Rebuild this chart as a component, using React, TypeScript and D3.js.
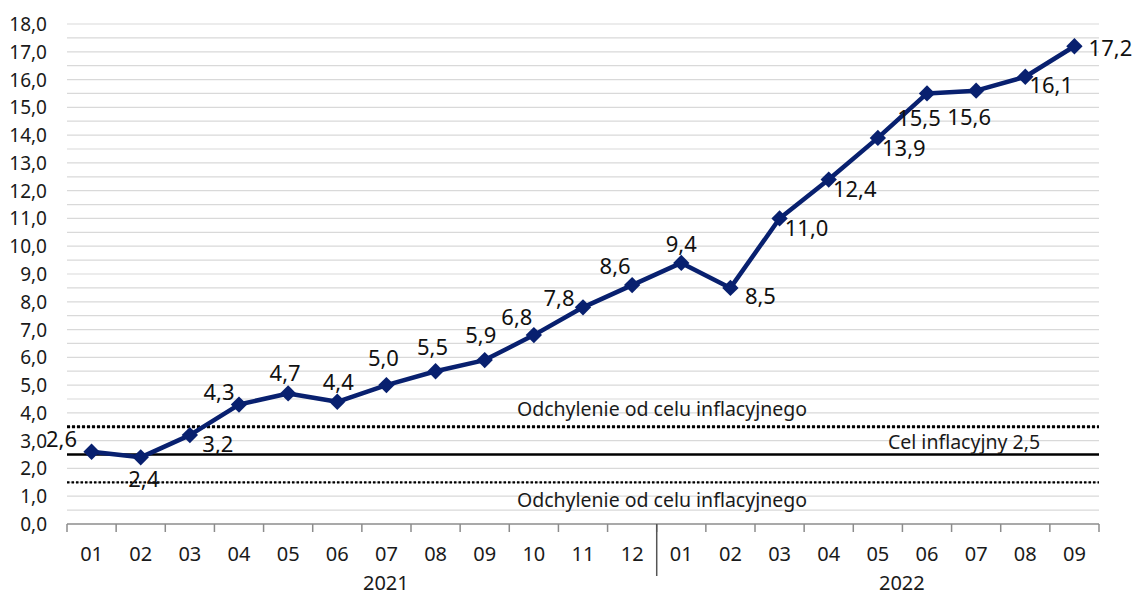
import { useEffect, useRef } from 'react'
import * as d3 from 'd3'

const months = ['01', '02', '03', '04', '05', '06', '07', '08', '09', '10', '11', '12',
  '01', '02', '03', '04', '05', '06', '07', '08', '09']
const years = ['2021', '2022']
const yearMonthCounts = [12, 9]
const inflation = [2.6, 2.4, 3.2, 4.3, 4.7, 4.4, 5.0, 5.5, 5.9, 6.8, 7.8, 8.6,
  9.4, 8.5, 11.0, 12.4, 13.9, 15.5, 15.6, 16.1, 17.2]
const target = 2.5
const bandUpper = 3.5
const bandLower = 1.5
const targetLabel = 'Cel inflacyjny 2,5'
const bandLabel = 'Odchylenie od celu inflacyjnego'

// label offsets relative to the marker (dx, dy)
const labelOffsets = [
  [-30, -14], [3, 21], [28, 8], [-20, -14], [-3, -21], [1, -21], [-3, -28],
  [-3, -25], [-4, -26], [-17, -19], [-24, -10], [-17, -20], [0, -20], [30, 7],
  [27, 9], [26, 8], [26, 9], [-8, 24], [-7, 25], [26, 7], [36, 1],
]

const W = 1136
const H = 595
const FONT = '"Noto Sans", sans-serif'
const NAVY = '#08206f'

const fmt = (v: number) => v.toFixed(1).replace('.', ',')

const App = () => {
  const ref = useRef<SVGSVGElement>(null)

  useEffect(() => {
    document.body.style.margin = '0'
    const svg = d3.select(ref.current)
    svg.selectAll('*').remove()

    const left = 67
    const right = 1099
    const top = 24
    const bottom = 524

    const x = d3.scaleBand<number>()
      .domain(d3.range(months.length))
      .range([left, right])
    const y = d3.scaleLinear().domain([0, 18]).range([bottom, top])

    // gridlines every 0.5
    svg.append('g')
      .selectAll('line')
      .data(d3.range(0.5, 18.01, 0.5))
      .join('line')
      .attr('x1', left).attr('x2', right)
      .attr('y1', d => y(d)).attr('y2', d => y(d))
      .attr('stroke', '#d9d9d9')
      .attr('stroke-width', 1.2)

    // y labels
    svg.append('g')
      .selectAll('text')
      .data(d3.range(0, 19, 1))
      .join('text')
      .attr('x', 47)
      .attr('y', d => y(d))
      .attr('text-anchor', 'end')
      .attr('dominant-baseline', 'central')
      .attr('font-family', FONT)
      .attr('font-size', 19)
      .attr('fill', '#1a1a1a')
      .text(d => fmt(d))

    // x axis
    svg.append('line')
      .attr('x1', left).attr('x2', right)
      .attr('y1', bottom).attr('y2', bottom)
      .attr('stroke', '#8c8c8c').attr('stroke-width', 1.5)

    const boundaries = d3.range(months.length + 1).map(i => left + i * x.step())
    svg.append('g')
      .selectAll('line')
      .data(boundaries)
      .join('line')
      .attr('x1', d => d).attr('x2', d => d)
      .attr('y1', bottom).attr('y2', bottom + 8)
      .attr('stroke', '#8c8c8c').attr('stroke-width', 1.5)

    svg.append('g')
      .selectAll('text')
      .data(months)
      .join('text')
      .attr('x', (_, i) => (x(i) as number) + x.bandwidth() / 2)
      .attr('y', 553)
      .attr('text-anchor', 'middle')
      .attr('dominant-baseline', 'central')
      .attr('font-family', FONT)
      .attr('font-size', 20)
      .attr('fill', '#1a1a1a')
      .text(d => d)

    // year groups
    let start = 0
    years.forEach((yr, k) => {
      const n = yearMonthCounts[k]
      const x0 = left + start * x.step()
      const x1 = left + (start + n) * x.step()
      svg.append('text')
        .attr('x', (x0 + x1) / 2 + 24)
        .attr('y', 582)
        .attr('text-anchor', 'middle')
        .attr('dominant-baseline', 'central')
        .attr('font-family', FONT)
        .attr('font-size', 20)
        .attr('fill', '#1a1a1a')
        .text(yr)
      if (k > 0) {
        svg.append('line')
          .attr('x1', x0).attr('x2', x0)
          .attr('y1', bottom).attr('y2', 576)
          .attr('stroke', '#555').attr('stroke-width', 1.5)
      }
      start += n
    })

    // band and target lines
    svg.append('line')
      .attr('x1', left).attr('x2', right)
      .attr('y1', y(bandUpper)).attr('y2', y(bandUpper))
      .attr('stroke', '#000').attr('stroke-width', 3)
      .attr('stroke-dasharray', '3 2')
    svg.append('line')
      .attr('x1', left).attr('x2', right)
      .attr('y1', y(bandLower)).attr('y2', y(bandLower))
      .attr('stroke', '#000').attr('stroke-width', 2.2)
      .attr('stroke-dasharray', '2.5 2')
    svg.append('line')
      .attr('x1', left).attr('x2', right)
      .attr('y1', y(target)).attr('y2', y(target))
      .attr('stroke', '#000').attr('stroke-width', 2.5)

    svg.append('text')
      .attr('x', 662).attr('y', y(bandUpper) - 18)
      .attr('text-anchor', 'middle').attr('dominant-baseline', 'central')
      .attr('font-family', FONT).attr('font-size', 19.5).attr('fill', '#1a1a1a')
      .text(bandLabel)
    svg.append('text')
      .attr('x', 662).attr('y', y(bandLower) + 17)
      .attr('text-anchor', 'middle').attr('dominant-baseline', 'central')
      .attr('font-family', FONT).attr('font-size', 19.5).attr('fill', '#1a1a1a')
      .text(bandLabel)
    svg.append('text')
      .attr('x', 964).attr('y', y(target) - 13)
      .attr('text-anchor', 'middle').attr('dominant-baseline', 'central')
      .attr('font-family', FONT).attr('font-size', 19.5).attr('fill', '#1a1a1a')
      .text(targetLabel)

    // series
    const cx = (i: number) => (x(i) as number) + x.bandwidth() / 2
    const line = d3.line<number>()
      .x((_, i) => cx(i))
      .y(d => y(d))
    svg.append('path')
      .datum(inflation)
      .attr('d', line)
      .attr('fill', 'none')
      .attr('stroke', NAVY)
      .attr('stroke-width', 4.5)
      .attr('stroke-linejoin', 'round')

    const diamond = d3.symbol().type(d3.symbolDiamond2).size(170)
    svg.append('g')
      .selectAll('path')
      .data(inflation)
      .join('path')
      .attr('d', diamond)
      .attr('transform', (d, i) => `translate(${cx(i)},${y(d)})`)
      .attr('fill', NAVY)

    svg.append('g')
      .selectAll('text')
      .data(inflation)
      .join('text')
      .attr('x', (_, i) => cx(i) + labelOffsets[i][0])
      .attr('y', (d, i) => y(d) + labelOffsets[i][1])
      .attr('text-anchor', 'middle')
      .attr('dominant-baseline', 'central')
      .attr('font-family', FONT)
      .attr('font-size', 22)
      .attr('fill', '#111')
      .text(d => fmt(d))
  }, [])

  return <svg ref={ref} width={W} height={H} style={{ display: 'block', background: '#fff' }}></svg>
}

export default App
